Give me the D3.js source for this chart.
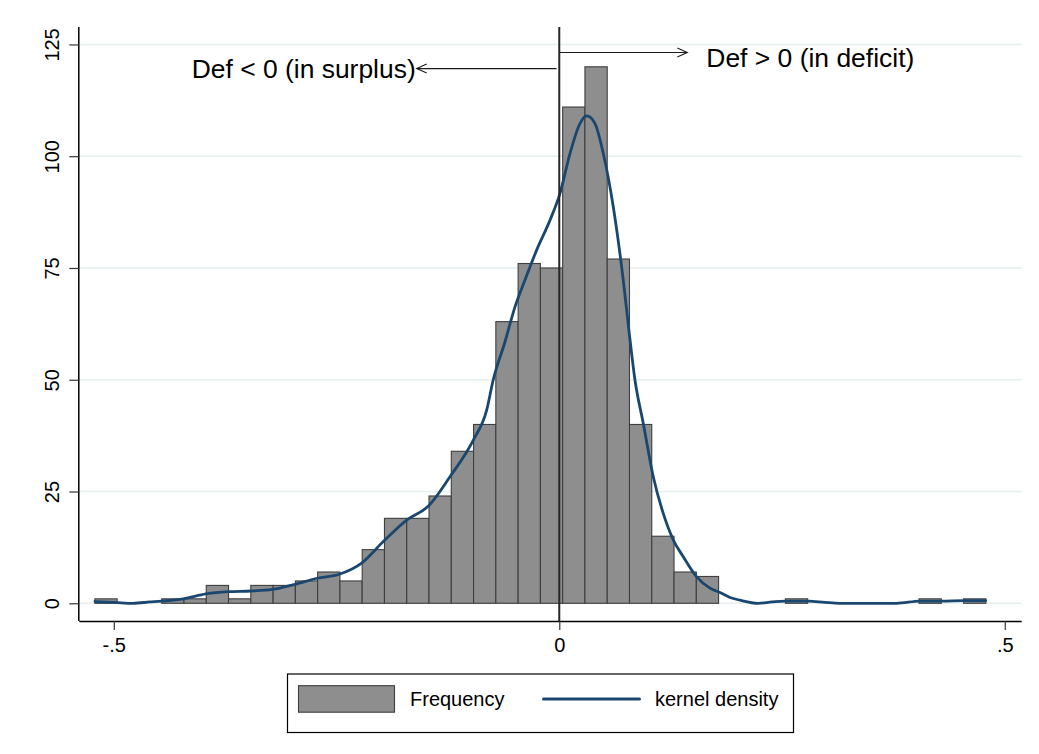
<!DOCTYPE html>
<html>
<head>
<meta charset="utf-8">
<script src="https://cdn.jsdelivr.net/npm/d3@7"></script>
<style>
  html, body { margin: 0; padding: 0; background: #ffffff; }
  svg { display: block; font-family: "Liberation Sans", Arial, sans-serif; }
</style>
</head>
<body>
<svg id="chart" width="1039" height="754"></svg>
<script>
// ---- DATA ----
const binLeft = [-0.5212,-0.4962,-0.4712,-0.4462,-0.4212,-0.3962,-0.3712,-0.3462,-0.3212,-0.2962,
                 -0.2712,-0.2462,-0.2212,-0.1962,-0.1712,-0.1462,-0.1212,-0.0962,-0.0712,-0.0462,
                 -0.0212,0.0038,0.0288,0.0538,0.0788,0.1038,0.1288,0.1538,0.1788,0.2038,
                 0.2288,0.2538,0.2788,0.3038,0.3288,0.3538,0.3788,0.4038,0.4288,0.4538];
const binWidth = 0.025;
const frequency = [1,0,0,1,1,4,1,4,4,5,
                   7,5,12,19,19,24,34,40,63,76,
                   75,111,120,77,40,15,7,6,0,0,
                   0,1,0,0,0,0,0,1,0,1];

const kdeX = [-0.5211,-0.4987,-0.4785,-0.4594,-0.4462,-0.422,-0.3965,-0.3715,-0.3464,-0.3217,
              -0.2966,-0.2716,-0.2469,-0.2218,-0.1975,-0.1713,-0.1466,-0.1227,-0.0965,-0.0815,
              -0.0741,-0.0609,-0.0497,-0.0385,-0.0254,-0.0104,0.0008,0.012,0.0232,0.0308,
              0.0401,0.0494,0.0606,0.0718,0.0782,0.0849,0.0943,0.1055,0.1167,0.1279,
              0.1392,0.1542,0.1691,0.1804,0.1916,0.2028,0.2233,0.2387,0.2533,0.2795,
              0.2982,0.315,0.3487,0.3787,0.4048,0.4292,0.4534,0.4786];
const kdeY = [0.4,0.2,0.0,0.3,0.5,1.0,2.1,2.6,2.75,3.1,
              4.25,5.6,6.5,9.0,13.8,18.6,21.8,28.3,36.5,43.2,
              50,58.5,66.3,72.3,79,85.7,91.7,100.6,107.3,109,
              107.3,100.6,88.7,72.3,61,50,40.2,28.3,20.1,14.2,
              10.4,5.9,3.4,2.4,1.3,0.7,0.0,0.3,0.5,0.5,
              0.2,0.0,0.0,0.0,0.5,0.5,0.6,0.6];

const xTicks = [-0.5, 0, 0.5];
const xTickLabels = ["-.5", "0", ".5"];
const yTicks = [0, 25, 50, 75, 100, 125];
const yTickLabels = ["0", "25", "50", "75", "100", "125"];

const refLineX = 0;
const annotLeft = { text: "Def < 0 (in surplus)", x0: -0.003, x1: -0.160, y: 119.6 };
const annotRight = { text: "Def > 0 (in deficit)", x0: 0.0, x1: 0.1437, y: 123.2 };
const legendLabels = ["Frequency", "kernel density"];

// ---- LAYOUT ----
const svg = d3.select("#chart");
const W = 1039, H = 754;
svg.append("rect").attr("width", W).attr("height", H).attr("fill", "#ffffff");

const plotLeft = 79.3, plotRight = 1021.7, plotTop = 27, plotBottom = 621;
const x = d3.scaleLinear().domain([-0.5387, 0.519]).range([plotLeft, plotRight]);
const y = d3.scaleLinear().domain([-3.96, 128.9]).range([plotBottom, plotTop]);

const barFill = "#8e8e8e", barStroke = "#3e3e3e", kdeColor = "#1a476f", gridColor = "#e6eef0";

// gridlines
svg.append("g").selectAll("line").data(yTicks).join("line")
  .attr("x1", plotLeft + 1).attr("x2", plotRight)
  .attr("y1", d => y(d)).attr("y2", d => y(d))
  .attr("stroke", gridColor).attr("stroke-width", 1.5);

// bars
const bins = binLeft.map((b, i) => ({ x0: b, x1: b + binWidth, n: frequency[i] })).filter(d => d.n > 0);
svg.append("g").selectAll("rect").data(bins).join("rect")
  .attr("x", d => x(d.x0)).attr("width", d => x(d.x1) - x(d.x0))
  .attr("y", d => y(d.n)).attr("height", d => y(0) - y(d.n))
  .attr("fill", barFill).attr("stroke", barStroke).attr("stroke-width", 1.1);

// kernel density
const kde = kdeX.map((v, i) => [v, kdeY[i]]);
svg.append("path").datum(kde)
  .attr("d", d3.line().x(d => x(d[0])).y(d => y(d[1])).curve(d3.curveMonotoneX))
  .attr("fill", "none").attr("stroke", kdeColor).attr("stroke-width", 2.8)
  .attr("stroke-linejoin", "round").attr("stroke-linecap", "round");

// reference line at 0
svg.append("line")
  .attr("x1", x(refLineX)).attr("x2", x(refLineX))
  .attr("y1", plotTop).attr("y2", plotBottom)
  .attr("stroke", "#262626").attr("stroke-width", 2);

// axes
const xAxis = d3.axisBottom(x).tickValues(xTicks).tickFormat((d, i) => xTickLabels[i]).tickSize(9).tickPadding(8);
const gx = svg.append("g").attr("transform", `translate(0,${plotBottom})`).call(xAxis);
gx.select(".domain").attr("d", `M${plotLeft},0.5H${plotRight}`).attr("stroke", "#000").attr("stroke-width", 1.5);
gx.selectAll(".tick line").attr("stroke", "#333").attr("stroke-width", 1.2);
gx.selectAll(".tick text").attr("font-size", 20).attr("fill", "#000").attr("font-family", "Liberation Sans, Arial, sans-serif");

const yAxis = d3.axisLeft(y).tickValues(yTicks).tickFormat((d, i) => yTickLabels[i]).tickSize(10).tickPadding(0);
const gy = svg.append("g").attr("transform", `translate(${plotLeft},0)`).call(yAxis);
gy.select(".domain").attr("d", `M-0.5,${plotTop}V${plotBottom}`).attr("stroke", "#000").attr("stroke-width", 1.5);
gy.selectAll(".tick line").attr("stroke", "#333").attr("stroke-width", 1.2);
gy.selectAll(".tick text")
  .attr("font-size", 20).attr("fill", "#000").attr("font-family", "Liberation Sans, Arial, sans-serif")
  .attr("text-anchor", "middle").attr("dy", null).attr("x", null)
  .attr("transform", "translate(-20,0) rotate(-90)");

// annotations (arrows)
function arrow(x0, x1, yv) {
  const px0 = x(x0), px1 = x(x1), py = y(yv);
  const dir = Math.sign(px1 - px0);
  const g = svg.append("g").attr("stroke", "#1a1a1a").attr("stroke-width", 1.1).attr("fill", "none");
  g.append("line").attr("x1", px0).attr("x2", px1).attr("y1", py).attr("y2", py);
  g.append("path").attr("d", `M${px1 - dir * 10},${py - 4.5}L${px1},${py}L${px1 - dir * 10},${py + 4.5}`);
  return { px1, py };
}
const aL = arrow(annotLeft.x0, annotLeft.x1, annotLeft.y);
const aR = arrow(annotRight.x0, annotRight.x1, annotRight.y);
svg.append("text").attr("x", aL.px1 - 1).attr("y", aL.py + 9)
  .attr("text-anchor", "end").attr("font-size", 25.5).attr("fill", "#000")
  .attr("textLength", 224).attr("lengthAdjust", "spacingAndGlyphs")
  .text(annotLeft.text);
svg.append("text").attr("x", aR.px1 + 19).attr("y", aR.py + 15)
  .attr("text-anchor", "start").attr("font-size", 25.5).attr("fill", "#000")
  .attr("textLength", 208).attr("lengthAdjust", "spacingAndGlyphs")
  .text(annotRight.text);

// legend
const lg = svg.append("g");
lg.append("rect").attr("x", 287.5).attr("y", 674).attr("width", 506).attr("height", 58.5)
  .attr("fill", "#fff").attr("stroke", "#000").attr("stroke-width", 1.2);
lg.append("rect").attr("x", 298.5).attr("y", 685.7).attr("width", 96).attr("height", 26.5)
  .attr("fill", barFill).attr("stroke", barStroke).attr("stroke-width", 1.1);
lg.append("text").attr("x", 410).attr("y", 706).attr("font-size", 20).attr("fill", "#000").text(legendLabels[0]);
lg.append("line").attr("x1", 543.5).attr("x2", 639.5).attr("y1", 699).attr("y2", 699)
  .attr("stroke", kdeColor).attr("stroke-width", 3).attr("stroke-linecap", "round");
lg.append("text").attr("x", 655).attr("y", 706).attr("font-size", 20).attr("fill", "#000").text(legendLabels[1]);
</script>
</body>
</html>
